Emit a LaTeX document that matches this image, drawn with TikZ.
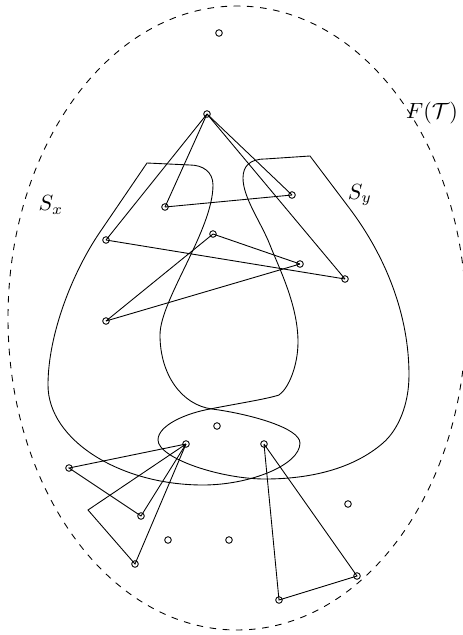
\documentclass[tikz,border=0pt]{standalone}
\usepackage{amsmath}
\usepackage{amssymb}
\usepackage{tikz}

\begin{document}
\begin{tikzpicture}[x=0.455pt, y=-0.455pt,
    vert/.style={circle, draw, inner sep=0pt, minimum size=3pt},
    link/.style={line width=0.4pt}]

\useasboundingbox (0,0) rectangle (462,635);

% Outer region F(T)
\draw[dashed] (237,318) ellipse [x radius=229, y radius=312];

% Region S_x (corner at the top left)
\draw (147,163) -- (100,232)
  .. controls (72,273) and (48,335) .. (48,385)
  .. controls (48,440) and (120,485) .. (203,485)
  .. controls (250,485) and (300,465) .. (300,443)
  .. controls (300,428) and (250,414) .. (212,409)
  .. controls (182,405) and (160,375) .. (160,335)
  .. controls (160,300) and (213,230) .. (213,185)
  .. controls (213,172) and (203,165) .. (190,165)
  -- cycle;

% Region S_y (corner at the top right)
\draw (310,156) -- (350,209)
  .. controls (386,257) and (409,315) .. (409,375)
  .. controls (409,405) and (398,430) .. (383,443)
  .. controls (353,469) and (310,479) .. (265,479)
  .. controls (220,479) and (158,458) .. (158,440)
  .. controls (158,425) and (187,413) .. (210,409)
  .. controls (235,404) and (267,399) .. (279,395)
  .. controls (289,388) and (298,365) .. (298,342)
  .. controls (298,305) and (279,268) .. (270,245)
  .. controls (261,222) and (243,198) .. (243,178)
  .. controls (243,166) and (250,159) .. (265,159)
  -- cycle;

% Labels
\node (lsx) at (51,205) {$S_x$};
\node (lsy) at (360,195) {$S_y$};
\node (lft) at (432,113) {$F(\mathcal{T})$};

% Vertices
\node[vert] (v0) at (219,33) {};
\node[vert] (root) at (207,114) {};
\node[vert] (a1) at (165,207) {};
\node[vert] (a2) at (292,195) {};
\node[vert] (a3) at (106,240) {};
\node[vert] (a4) at (213,234) {};
\node[vert] (a5) at (300,264) {};
\node[vert] (a6) at (345,279) {};
\node[vert] (a7) at (106,321) {};
\node[vert] (c0) at (217,426) {};
\node[vert] (u) at (186,444) {};
\node[vert] (w) at (264,444) {};
\node[vert] (b1) at (69,468) {};
\node[vert] (b2) at (141,516) {};
\node[vert] (b3) at (135,564) {};
\node[vert] (d1) at (168,540) {};
\node[vert] (d2) at (229,540) {};
\node[vert] (d3) at (348,504) {};
\node[vert] (e1) at (357,576) {};
\node[vert] (e2) at (279,600) {};
\coordinate (k) at (88,510);

% Upper edges
\draw[link] (root.center) -- (a1.center);
\draw[link] (root.center) -- (a3.center);
\draw[link] (root.center) -- (a2.center);
\draw[link] (root.center) -- (a6.center);
\draw[link] (a1.center) -- (a2.center);
\draw[link] (a3.center) -- (a6.center);
\draw[link] (a4.center) -- (a5.center);
\draw[link] (a4.center) -- (a7.center);
\draw[link] (a7.center) -- (a5.center);

% Lower edges
\draw[link] (u.center) -- (b1.center) -- (b2.center) -- (u.center);
\draw[link] (u.center) -- (k) -- (b3.center) -- (u.center);
\draw[link] (w.center) -- (e2.center) -- (e1.center) -- (w.center);

\end{tikzpicture}
\end{document}
